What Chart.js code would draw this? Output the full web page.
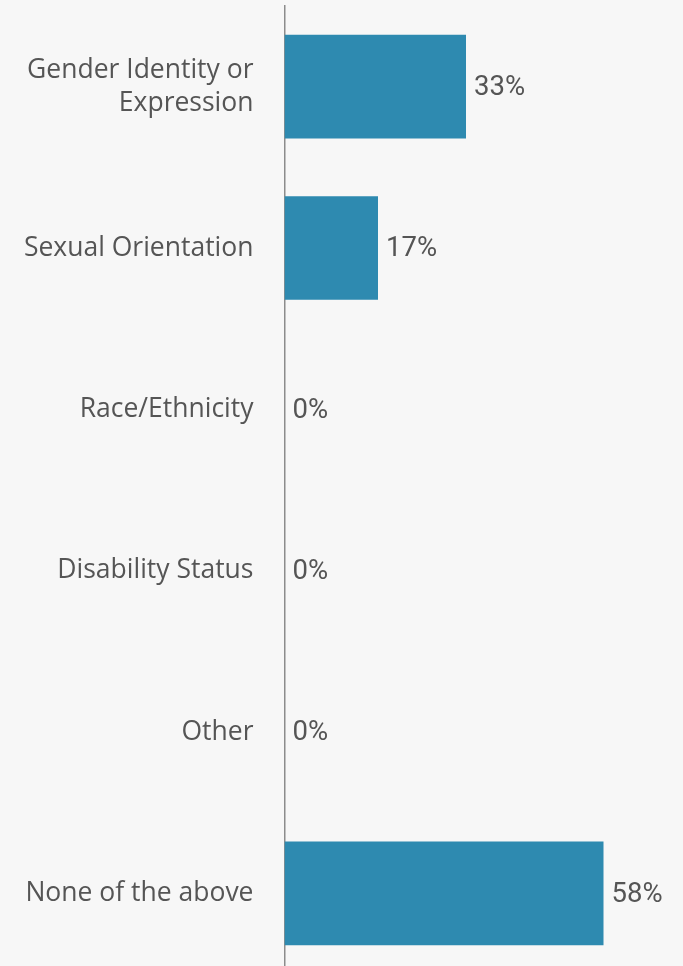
<!DOCTYPE html>
<html>
<head>
<meta charset="utf-8">
<script src="https://cdn.jsdelivr.net/npm/chart.js@4/dist/chart.umd.min.js"></script>
<style>
  html, body { margin: 0; padding: 0; background: #f7f7f7; overflow: hidden; }
  #wrap { position: relative; width: 683px; height: 974px; }
</style>
</head>
<body>
<div id="wrap"><canvas id="chart"></canvas></div>
<script>
// Share of respondents by basis of reported experience
const categories = [
  ['Gender Identity or', 'Expression'],
  'Sexual Orientation',
  'Race/Ethnicity',
  'Disability Status',
  'Other',
  'None of the above'
];
const percentValues = [33, 17, 0, 0, 0, 58];
const valueLabels = ['33%', '17%', '0%', '0%', '0%', '58%'];

const barColor = '#2e8ab0';
const textColor = '#555555';

// Paint the page background and write the percentage after each bar
const valueLabelPlugin = {
  id: 'valueLabels',
  beforeDraw(chart) {
    const ctx = chart.ctx;
    ctx.save();
    ctx.fillStyle = '#f7f7f7';
    ctx.fillRect(0, 0, chart.width, chart.height);
    ctx.restore();
  },
  afterDatasetsDraw(chart) {
    const ctx = chart.ctx;
    const meta = chart.getDatasetMeta(0);
    ctx.save();
    ctx.font = '27.5px Roboto, "Liberation Sans", Arial, sans-serif';
    ctx.fillStyle = textColor;
    ctx.textAlign = 'left';
    ctx.textBaseline = 'middle';
    meta.data.forEach((bar, i) => {
      ctx.fillText(valueLabels[i], bar.x + 8, bar.y + 1.5);
    });
    ctx.restore();
  }
};

new Chart(document.getElementById('chart'), {
  type: 'bar',
  data: {
    labels: categories,
    datasets: [{
      data: percentValues,
      backgroundColor: barColor,
      borderWidth: 0,
      categoryPercentage: 1,
      barPercentage: 0.643
    }]
  },
  options: {
    indexAxis: 'y',
    responsive: true,
    maintainAspectRatio: false,
    animation: false,
    layout: { padding: { top: 6, right: 13.5, bottom: 0, left: 0 } },
    plugins: {
      legend: { display: false },
      tooltip: { enabled: false }
    },
    scales: {
      x: {
        display: false,
        min: 0,
        max: 70
      },
      y: {
        afterFit(scale) {
          // fixed label column; no extra vertical room for the tick labels
          scale.width = 284.5;
          scale.paddingTop = 0;
          scale.paddingBottom = 0;
        },
        grid: { display: false, drawTicks: false },
        border: { display: true, color: '#8c8c8c', width: 1.5 },
        ticks: {
          padding: 31,
          color: textColor,
          font: { family: '"Open Sans", "Noto Sans", sans-serif', size: 26.5, lineHeight: 1.25 }
        }
      }
    }
  },
  plugins: [valueLabelPlugin]
});
</script>
</body>
</html>
